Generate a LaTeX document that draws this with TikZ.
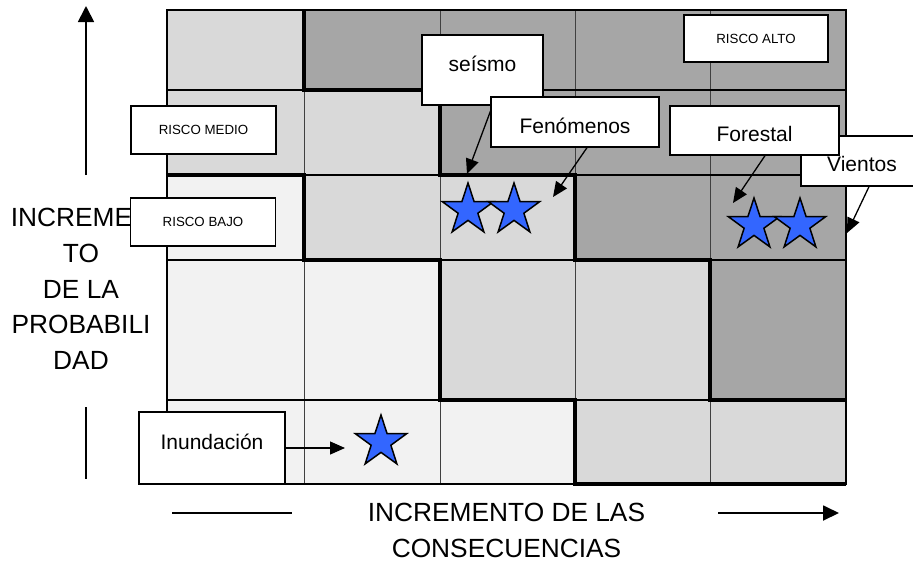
\documentclass[tikz,border=0pt]{standalone}
\usepackage{fontspec}
\setmainfont{Liberation Sans}
\usetikzlibrary{shapes,calc,arrows.meta}
\def\xA{167}
\def\xB{304}
\def\xC{440}
\def\xD{575}
\def\xE{710}
\def\xF{846}
\def\yA{10}
\def\yB{90}
\def\yC{175}
\def\yD{260}
\def\yE{400}
\def\yF{484}
\definecolor{claro}{gray}{0.95}
\definecolor{medio}{gray}{0.85}
\definecolor{oscuro}{gray}{0.65}
\definecolor{azul}{RGB}{51,102,255}

\begin{document}
\begin{tikzpicture}[x=1pt, y=-1pt]
	\tikzstyle{caja}    = [draw, fill=white, line width=1.3pt, inner sep=0pt, font=\fontsize{21}{25}\selectfont]
	\tikzstyle{riesgo}  = [draw, fill=white, line width=1.3pt, inner sep=0pt, minimum width=145pt, minimum height=48pt, font=\fontsize{13.3}{16}\selectfont]
	\tikzstyle{estrella} = [star, star points=5, star point ratio=2.6, draw, line width=1.5pt, fill=azul, minimum size=54pt, inner sep=0pt]
	\tikzstyle{flecha}  = [line width=1.3pt, -{Triangle[length=15pt, width=13pt]}]
	\tikzstyle{eje}     = [line width=1.8pt]
	\tikzstyle{titulo}  = [align=center, inner sep=0pt, font=\fontsize{26.3}{35.8}\selectfont]

	\useasboundingbox (0,0) rectangle (913,566);
	\clip (0,0) rectangle (913,566);

	%%Zonas de riesgo
	\fill[claro] (\xA,\yA) rectangle (\xF,\yF);
	\fill[medio] (\xA,\yA) -- (\xB,\yA) -- (\xB,\yB) -- (\xC,\yB) -- (\xC,\yC) -- (\xD,\yC) -- (\xD,\yD) -- (\xE,\yD) -- (\xE,\yE) -- (\xF,\yE) -- (\xF,\yF) -- (\xD,\yF) -- (\xD,\yE) -- (\xC,\yE) -- (\xC,\yD) -- (\xB,\yD) -- (\xB,\yC) -- (\xA,\yC) -- cycle;
	\fill[oscuro] (\xB,\yA) -- (\xF,\yA) -- (\xF,\yE) -- (\xE,\yE) -- (\xE,\yD) -- (\xD,\yD) -- (\xD,\yC) -- (\xC,\yC) -- (\xC,\yB) -- (\xB,\yB) -- cycle;

	\draw[line width=0.7pt, black!75] (\xB,\yA) -- (\xB,\yF);
	\draw[line width=0.7pt, black!75] (\xC,\yA) -- (\xC,\yF);
	\draw[line width=0.7pt, black!75] (\xD,\yA) -- (\xD,\yF);
	\draw[line width=0.7pt, black!75] (\xE,\yA) -- (\xE,\yF);
	\draw[line width=1.4pt] (\xA,\yB) -- (\xF,\yB);
	\draw[line width=1.4pt] (\xA,\yC) -- (\xF,\yC);
	\draw[line width=1.4pt] (\xA,\yD) -- (\xF,\yD);
	\draw[line width=1.4pt] (\xA,\yE) -- (\xF,\yE);

	\draw[line width=4.5pt] (\xB,\yA) -- (\xB,\yB) -- (\xC,\yB) -- (\xC,\yC) -- (\xD,\yC) -- (\xD,\yD) -- (\xE,\yD) -- (\xE,\yE) -- (\xF,\yE);
	\draw[line width=4.5pt] (\xA,\yC) -- (\xB,\yC) -- (\xB,\yD) -- (\xC,\yD) -- (\xC,\yE) -- (\xD,\yE) -- (\xD,\yF) -- (\xF,\yF);
	\draw[line width=2.5pt] (\xA,\yA) rectangle (\xF,\yF);

	%%Ejes
	\node[titulo] (prob) at (81,289) {INCREMEN\\TO\\DE LA\\PROBABILI\\DAD};
	\node[titulo] (cons) at (506.5,530.5) {INCREMENTO DE LAS\\CONSECUENCIAS};
	\coordinate (ya) at (86,175);
	\coordinate (yb) at (86,6);
	\coordinate (yc) at (86,407);
	\coordinate (yd) at (86,479);
	\coordinate (xa) at (172,513);
	\coordinate (xb) at (292,513);
	\coordinate (xc) at (718,513);
	\coordinate (xd) at (839,513);
	\draw[eje, -{Triangle[length=16pt, width=16pt]}] (ya) -- (yb);
	\draw[eje] (yc) -- (yd);
	\draw[eje] (xa) -- (xb);
	\draw[eje, -{Triangle[length=16pt, width=15pt]}] (xc) -- (xd);

	%%Fenomenos
	\node[estrella] (e1) at (468,210) {};
	\node[estrella] (e2) at (514,210) {};
	\node[estrella] (e3) at (754,225) {};
	\node[estrella] (e4) at (800,225) {};
	\node[estrella] (e5) at (381,442) {};

	\coordinate (pseismo) at (467,174);
	\coordinate (pfen) at (553,197);
	\coordinate (pfor) at (733,203);
	\coordinate (pvie) at (847,233);
	\coordinate (pinu) at (345,448);

	\node[caja, minimum width=122pt, minimum height=50pt, text height=25.5pt, text depth=4pt] (vientos) at (862,161) {Vientos};
	\node[caja, minimum width=121pt, minimum height=70pt, text height=15pt, text depth=13pt] (seismo) at (482.5,70) {seísmo};
	\draw[flecha] ([xshift=10pt]seismo.south) -- (pseismo);
	\node[caja, minimum width=168pt, minimum height=50pt, text height=26pt, text depth=4pt] (fen) at (575,122) {Fenómenos};
	\node[caja, minimum width=169pt, minimum height=49pt, text height=26pt, text depth=4pt] (forestal) at (754.5,130.5) {Forestal};
	\node[caja, minimum width=146pt, minimum height=72pt, text height=15pt, text depth=13pt] (inund) at (212,448) {Inundación};

	\draw[flecha] ([xshift=12pt]fen.south) -- (pfen);
	\draw[flecha] ([xshift=10.5pt]forestal.south) -- (pfor);
	\draw[flecha] ([xshift=7pt]vientos.south) -- (pvie);
	\draw[flecha] (inund.east) -- (pinu);

	%%Niveles de riesgo
	\node[riesgo] (rmedio) at (203.5,130) {RISCO MEDIO};
	\node[riesgo] (rbajo) at (203,222) {RISCO BAJO};
	\node[riesgo, minimum width=144pt, minimum height=47pt] (ralto) at (756,38.5) {RISCO ALTO};
\end{tikzpicture}
\end{document}
